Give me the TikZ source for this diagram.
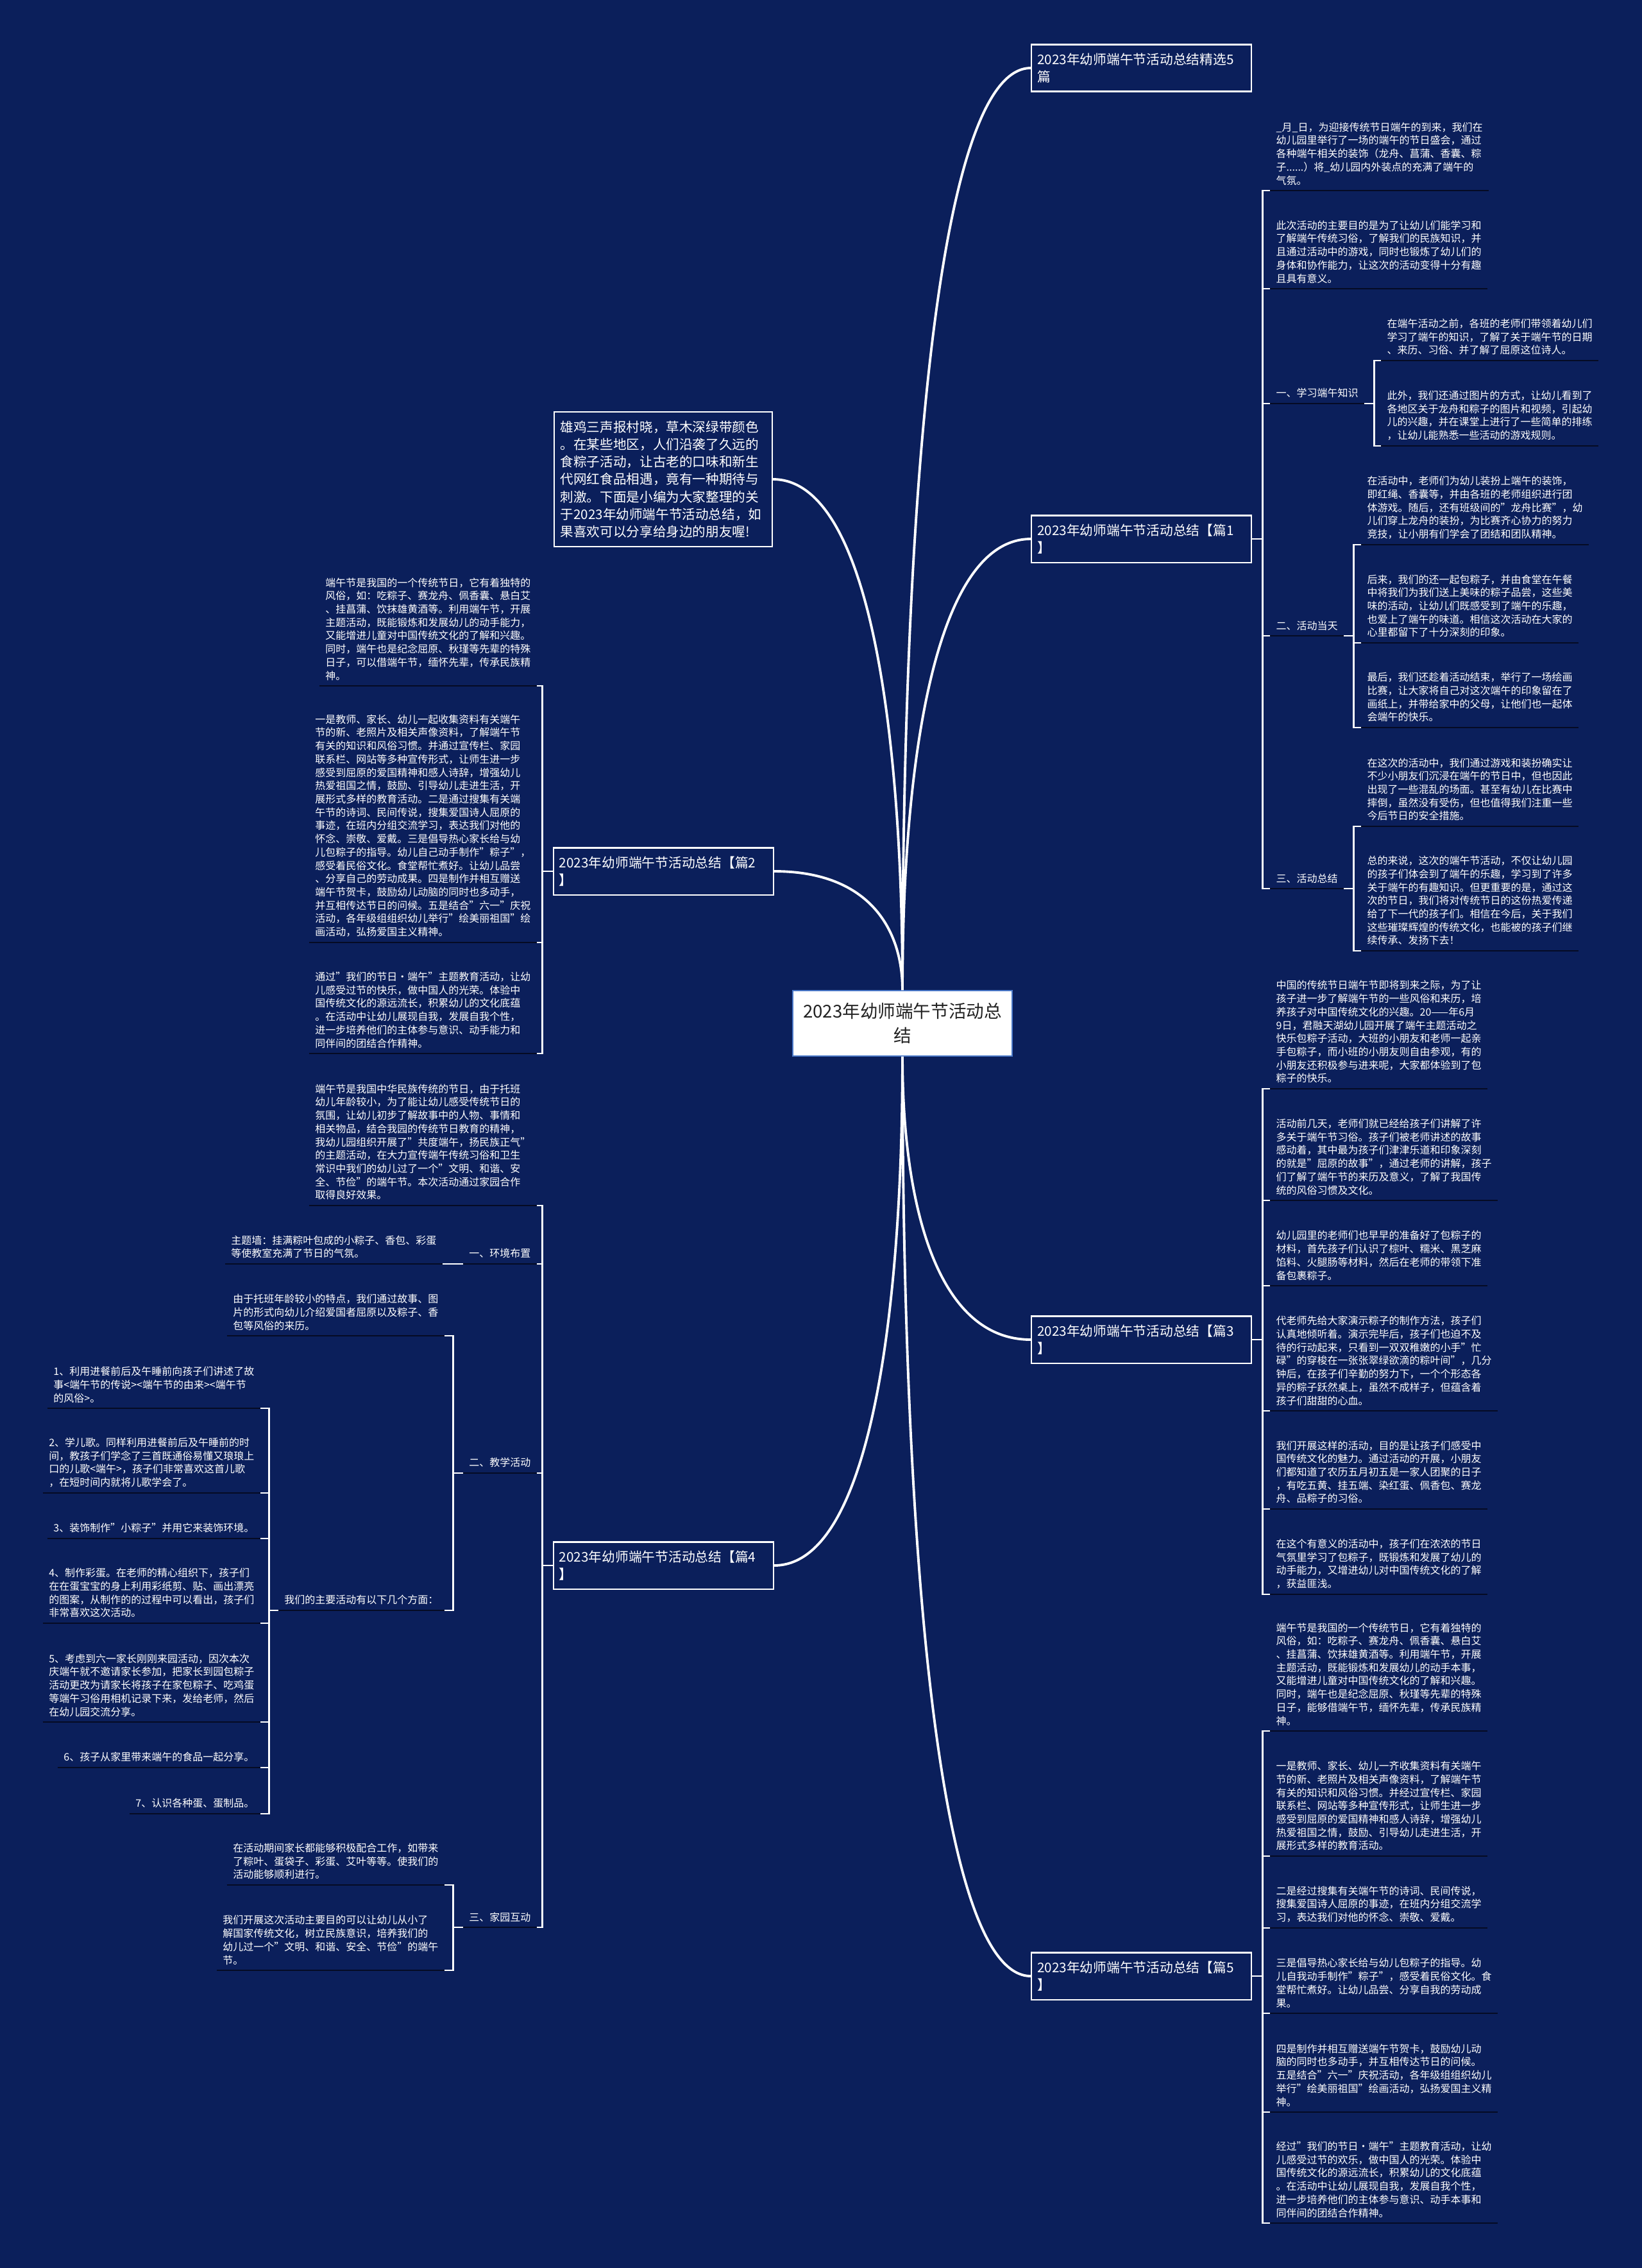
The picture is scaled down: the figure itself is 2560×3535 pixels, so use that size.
\documentclass[tikz,border=0pt]{standalone}
\usepackage{fontspec}
\setmainfont{Noto Sans CJK SC}
\usetikzlibrary{calc}
\definecolor{NavyBg}{HTML}{0B1F5B}
\definecolor{LineDark}{HTML}{050B24}
\definecolor{TextDark}{HTML}{222222}
\definecolor{RootEdge}{HTML}{4A78C8}

\begin{document}
\begin{tikzpicture}[x=0.01cm, y=-0.01cm,
    every node/.style={text=white},
    rootbox/.style={fill=white, draw=RootEdge, line width=0.5pt, text=TextDark, minimum width=3.42cm,
      minimum height=1.02cm, align=center, font=\fontsize{7.85pt}{10.8pt}\selectfont},
    branchbox/.style={draw=white, line width=0.6pt, text width=3.25cm, inner xsep=0.09cm,
      inner ysep=0.13cm, align=left, font=\fontsize{5.9pt}{7.9pt}\selectfont},
    leaf/.style={inner xsep=0.09cm, inner ysep=0.08cm, align=left,
      font=\fontsize{4.55pt}{5.89pt}\selectfont},
    rleaf/.style={leaf, anchor=south west},
    lleaf/.style={leaf, anchor=south east},
    curve/.style={draw=white, line width=1.1pt},
    wire/.style={draw=white, line width=0.7pt},
    uline/.style={draw=LineDark, line width=0.7pt}]
  \fill[NavyBg] (0,0) rectangle (2560,3535);
  \useasboundingbox (0,0) rectangle (2560,3535);

  % centre and main branches
  \node[rootbox] (root) at (1407,1595) {2023年幼师端午节活动总\\结};
  \node[branchbox, anchor=west] (b5p) at (1607,106) {2023年幼师端午节活动总结精选5\\篇};
  \node[branchbox, anchor=west] (b1) at (1607,840) {2023年幼师端午节活动总结【篇1\\】};
  \node[branchbox, anchor=west] (b3) at (1607,2088) {2023年幼师端午节活动总结【篇3\\】};
  \node[branchbox, anchor=west] (b5) at (1607,3080) {2023年幼师端午节活动总结【篇5\\】};
  \node[branchbox, anchor=east, text width=3.2cm, inner xsep=0.1cm, inner ysep=0.14cm,
        font=\fontsize{5.86pt}{7.75pt}\selectfont] (intro) at (1205,747)
    {雄鸡三声报村晓，草木深绿带颜色\\。在某些地区，人们沿袭了久远的\\食粽子活动，让古老的口味和新生\\代网红食品相遇，竟有一种期待与\\刺激。下面是小编为大家整理的关\\于2023年幼师端午节活动总结，如\\果喜欢可以分享给身边的朋友喔!};
  \node[branchbox, anchor=east] (b2) at (1207,1358) {2023年幼师端午节活动总结【篇2\\】};
  \node[branchbox, anchor=east] (b4) at (1207,2440) {2023年幼师端午节活动总结【篇4\\】};

  \foreach \br/\s/\e in {b5p/north/west, b1/north/west, b3/south/west, b5/south/west,
                         intro/north/east, b2/north/east, b4/south/east}
    \draw[curve] (root.\s) .. controls ($(root.\s)!0.5!(root.\s |- \br.\e)$)
      and ($(root.\s |- \br.\e)!0.25!(\br.\e)$) .. (\br.\e);

  % 篇1
  \node[rleaf] (p1) at (1980,297) {\_月\_日，为迎接传统节日端午的到来，我们在\\幼儿园里举行了一场的端午的节日盛会，通过\\各种端午相关的装饰（龙舟、菖蒲、香囊、粽\\子......）将\_幼儿园内外装点的充满了端午的\\气氛。};
  \node[rleaf] (p2) at (1980,450) {此次活动的主要目的是为了让幼儿们能学习和\\了解端午传统习俗，了解我们的民族知识，并\\且通过活动中的游戏，同时也锻炼了幼儿们的\\身体和协作能力，让这次的活动变得十分有趣\\且具有意义。};
  \node[rleaf] (l1) at (1980,629) {一、学习端午知识};
  \node[rleaf] (l2) at (1980,991) {二、活动当天};
  \node[rleaf] (l3) at (1980,1385) {三、活动总结};
  \node[rleaf] (l1a) at (2153,562) {在端午活动之前，各班的老师们带领着幼儿们\\学习了端午的知识，了解了关于端午节的日期\\、来历、习俗、并了解了屈原这位诗人。};
  \node[rleaf] (l1b) at (2153,695) {此外，我们还通过图片的方式，让幼儿看到了\\各地区关于龙舟和粽子的图片和视频，引起幼\\儿的兴趣，并在课堂上进行了一些简单的排练\\，让幼儿能熟悉一些活动的游戏规则。};
  \node[rleaf] (l2a) at (2122,849) {在活动中，老师们为幼儿装扮上端午的装饰，\\即红绳、香囊等，并由各班的老师组织进行团\\体游戏。随后，还有班级间的"龙舟比赛"，幼\\儿们穿上龙舟的装扮，为比赛齐心协力的努力\\竞技，让小朋有们学会了团结和团队精神。};
  \node[rleaf] (l2b) at (2122,1002) {后来，我们的还一起包粽子，并由食堂在午餐\\中将我们为我们送上美味的粽子品尝，这些美\\味的活动，让幼儿们既感受到了端午的乐趣，\\也爱上了端午的味道。相信这次活动在大家的\\心里都留下了十分深刻的印象。};
  \node[rleaf] (l2c) at (2122,1134) {最后，我们还趁着活动结束，举行了一场绘画\\比赛，让大家将自己对这次端午的印象留在了\\画纸上，并带给家中的父母，让他们也一起体\\会端午的快乐。};
  \node[rleaf] (l3a) at (2122,1288) {在这次的活动中，我们通过游戏和装扮确实让\\不少小朋友们沉浸在端午的节日中，但也因此\\出现了一些混乱的场面。甚至有幼儿在比赛中\\摔倒，虽然没有受伤，但也值得我们注重一些\\今后节日的安全措施。};
  \node[rleaf] (l3b) at (2122,1482) {总的来说，这次的端午节活动，不仅让幼儿园\\的孩子们体会到了端午的乐趣，学习到了许多\\关于端午的有趣知识。但更重要的是，通过这\\次的节日，我们将对传统节日的这份热爱传递\\给了下一代的孩子们。相信在今后，关于我们\\这些璀璨辉煌的传统文化，也能被的孩子们继\\续传承、发扬下去！};

  % 篇3
  \node[rleaf] (r1) at (1980,1697) {中国的传统节日端午节即将到来之际，为了让\\孩子进一步了解端午节的一些风俗和来历，培\\养孩子对中国传统文化的兴趣。20——年6月\\9日，君融天湖幼儿园开展了端午主题活动之\\快乐包粽子活动，大班的小朋友和老师一起亲\\手包粽子，而小班的小朋友则自由参观，有的\\小朋友还积极参与进来呢，大家都体验到了包\\粽子的快乐。};
  \node[rleaf] (r2) at (1980,1871) {活动前几天，老师们就已经给孩子们讲解了许\\多关于端午节习俗。孩子们被老师讲述的故事\\感动着，其中最为孩子们津津乐道和印象深刻\\的就是"屈原的故事"，通过老师的讲解，孩子\\们了解了端午节的来历及意义，了解了我国传\\统的风俗习惯及文化。};
  \node[rleaf] (r3) at (1980,2004) {幼儿园里的老师们也早早的准备好了包粽子的\\材料，首先孩子们认识了棕叶、糯米、黑芝麻\\馅料、火腿肠等材料，然后在老师的带领下准\\备包裹粽子。};
  \node[rleaf] (r4) at (1980,2199) {代老师先给大家演示粽子的制作方法，孩子们\\认真地倾听着。演示完毕后，孩子们也迫不及\\待的行动起来，只看到一双双稚嫩的小手"忙\\碌"的穿梭在一张张翠绿欲滴的粽叶间"，几分\\钟后，在孩子们辛勤的努力下，一个个形态各\\异的粽子跃然桌上，虽然不成样子，但蕴含着\\孩子们甜甜的心血。};
  \node[rleaf] (r5) at (1980,2352) {我们开展这样的活动，目的是让孩子们感受中\\国传统文化的魅力。通过活动的开展，小朋友\\们都知道了农历五月初五是一家人团聚的日子\\，有吃五黄、挂五端、染红蛋、佩香包、赛龙\\舟、品粽子的习俗。};
  \node[rleaf] (r6) at (1980,2485) {在这个有意义的活动中，孩子们在浓浓的节日\\气氛里学习了包粽子，既锻炼和发展了幼儿的\\动手能力，又增进幼儿对中国传统文化的了解\\，获益匪浅。};

  % 篇5
  \node[rleaf] (s1) at (1980,2698) {端午节是我国的一个传统节日，它有着独特的\\风俗，如：吃粽子、赛龙舟、佩香囊、悬白艾\\、挂菖蒲、饮抹雄黄酒等。利用端午节，开展\\主题活动，既能锻炼和发展幼儿的动手本事，\\又能增进儿童对中国传统文化的了解和兴趣。\\同时，端午也是纪念屈原、秋瑾等先辈的特殊\\日子，能够借端午节，缅怀先辈，传承民族精\\神。};
  \node[rleaf] (s2) at (1980,2893) {一是教师、家长、幼儿一齐收集资料有关端午\\节的新、老照片及相关声像资料，了解端午节\\有关的知识和风俗习惯。并经过宣传栏、家园\\联系栏、网站等多种宣传形式，让师生进一步\\感受到屈原的爱国精神和感人诗辞，增强幼儿\\热爱祖国之情，鼓励、引导幼儿走进生活，开\\展形式多样的教育活动。};
  \node[rleaf] (s3) at (1980,3005) {二是经过搜集有关端午节的诗词、民间传说，\\搜集爱国诗人屈原的事迹，在班内分组交流学\\习，表达我们对他的怀念、崇敬、爱戴。};
  \node[rleaf] (s4) at (1980,3138) {三是倡导热心家长给与幼儿包粽子的指导。幼\\儿自我动手制作"粽子"，感受着民俗文化。食\\堂帮忙煮好。让幼儿品尝、分享自我的劳动成\\果。};
  \node[rleaf] (s5) at (1980,3292) {四是制作并相互赠送端午节贺卡，鼓励幼儿动\\脑的同时也多动手，并互相传达节日的问候。\\五是结合"六一"庆祝活动，各年级组组织幼儿\\举行"绘美丽祖国"绘画活动，弘扬爱国主义精\\神。};
  \node[rleaf] (s6) at (1980,3465) {经过"我们的节日·端午"主题教育活动，让幼\\儿感受过节的欢乐，做中国人的光荣。体验中\\国传统文化的源远流长，积累幼儿的文化底蕴\\。在活动中让幼儿展现自我，发展自我个性，\\进一步培养他们的主体参与意识、动手本事和\\同伴间的团结合作精神。};

  % 篇2
  \node[lleaf] (q1) at (837,1069) {端午节是我国的一个传统节日，它有着独特的\\风俗，如：吃粽子、赛龙舟、佩香囊、悬白艾\\、挂菖蒲、饮抹雄黄酒等。利用端午节，开展\\主题活动，既能锻炼和发展幼儿的动手能力，\\又能增进儿童对中国传统文化的了解和兴趣。\\同时，端午也是纪念屈原、秋瑾等先辈的特殊\\日子，可以借端午节，缅怀先辈，传承民族精\\神。};
  \node[lleaf] (q2) at (837,1469) {一是教师、家长、幼儿一起收集资料有关端午\\节的新、老照片及相关声像资料，了解端午节\\有关的知识和风俗习惯。并通过宣传栏、家园\\联系栏、网站等多种宣传形式，让师生进一步\\感受到屈原的爱国精神和感人诗辞，增强幼儿\\热爱祖国之情，鼓励、引导幼儿走进生活，开\\展形式多样的教育活动。二是通过搜集有关端\\午节的诗词、民间传说，搜集爱国诗人屈原的\\事迹，在班内分组交流学习，表达我们对他的\\怀念、崇敬、爱戴。三是倡导热心家长给与幼\\儿包粽子的指导。幼儿自己动手制作"粽子"，\\感受着民俗文化。食堂帮忙煮好。让幼儿品尝\\、分享自己的劳动成果。四是制作并相互赠送\\端午节贺卡，鼓励幼儿动脑的同时也多动手，\\并互相传达节日的问候。五是结合"六一"庆祝\\活动，各年级组组织幼儿举行"绘美丽祖国"绘\\画活动，弘扬爱国主义精神。};
  \node[lleaf] (q3) at (837,1642) {通过"我们的节日·端午"主题教育活动，让幼\\儿感受过节的快乐，做中国人的光荣。体验中\\国传统文化的源远流长，积累幼儿的文化底蕴\\。在活动中让幼儿展现自我，发展自我个性，\\进一步培养他们的主体参与意识、动手能力和\\同伴间的团结合作精神。};

  % 篇4
  \node[lleaf] (t0) at (837,1879) {端午节是我国中华民族传统的节日，由于托班\\幼儿年龄较小，为了能让幼儿感受传统节日的\\氛围，让幼儿初步了解故事中的人物、事情和\\相关物品，结合我园的传统节日教育的精神，\\我幼儿园组织开展了"共度端午，扬民族正气"\\的主题活动，在大力宣传端午传统习俗和卫生\\常识中我们的幼儿过了一个"文明、和谐、安\\全、节俭"的端午节。本次活动通过家园合作\\取得良好效果。};
  \node[lleaf] (e1) at (837,1970) {一、环境布置};
  \node[lleaf] (e2) at (837,2296) {二、教学活动};
  \node[lleaf] (e3) at (837,3004) {三、家园互动};
  \node[lleaf] (e1a) at (690,1970) {主题墙：挂满粽叶包成的小粽子、香包、彩蛋\\等使教室充满了节日的气氛。};
  \node[lleaf] (e2a) at (693,2082) {由于托班年龄较小的特点，我们通过故事、图\\片的形式向幼儿介绍爱国者屈原以及粽子、香\\包等风俗的来历。};
  \node[lleaf] (e2b) at (693,2510) {我们的主要活动有以下几个方面：};
  \node[lleaf] (e3a) at (693,2938) {在活动期间家长都能够积极配合工作，如带来\\了粽叶、蛋袋子、彩蛋、艾叶等等。使我们的\\活动能够顺利进行。};
  \node[lleaf] (e3b) at (693,3071) {我们开展这次活动主要目的可以让幼儿从小了\\解国家传统文化，树立民族意识，培养我们的\\幼儿过一个"文明、和谐、安全、节俭"的端午\\节。};
  \node[lleaf] (k1) at (406,2195) {1、利用进餐前后及午睡前向孩子们讲述了故\\事<端午节的传说><端午节的由来><端午节\\的风俗>。};
  \node[lleaf] (k2) at (406,2327) {2、学儿歌。同样利用进餐前后及午睡前的时\\间，教孩子们学念了三首既通俗易懂又琅琅上\\口的儿歌<端午>，孩子们非常喜欢这首儿歌\\，在短时间内就将儿歌学会了。};
  \node[lleaf] (k3) at (406,2398) {3、装饰制作"小粽子"并用它来装饰环境。};
  \node[lleaf] (k4) at (406,2530) {4、制作彩蛋。在老师的精心组织下，孩子们\\在在蛋宝宝的身上利用彩纸剪、贴、画出漂亮\\的图案，从制作的的过程中可以看出，孩子们\\非常喜欢这次活动。};
  \node[lleaf] (k5) at (406,2684) {5、考虑到六一家长刚刚来园活动，因次本次\\庆端午就不邀请家长参加，把家长到园包粽子\\活动更改为请家长将孩子在家包粽子、吃鸡蛋\\等端午习俗用相机记录下来，发给老师，然后\\在幼儿园交流分享。};
  \node[lleaf] (k6) at (406,2755) {6、孩子从家里带来端午的食品一起分享。};
  \node[lleaf] (k7) at (406,2827) {7、认识各种蛋、蛋制品。};

  % underlines
  \foreach \n in {p1,p2,l1,l2,l3,l1a,l1b,l2a,l2b,l2c,l3a,l3b,r1,r2,r3,r4,r5,r6,
                  s1,s2,s3,s4,s5,s6,q1,q2,q3,t0,e1,e2,e3,e1a,e2a,e2b,e3a,e3b,
                  k1,k2,k3,k4,k5,k6,k7}
    \draw[uline] (\n.south west) -- (\n.south east);

  % brackets
  \foreach \n in {p1,p2,l1,l2,l3} \draw[wire] (b1.east) -- ++(16,0) |- (\n.south west);
  \foreach \n in {l1a,l1b} \draw[wire] (l1.south east) -- ++(15,0) |- (\n.south west);
  \foreach \n in {l2a,l2b,l2c} \draw[wire] (l2.south east) -- ++(15,0) |- (\n.south west);
  \foreach \n in {l3a,l3b} \draw[wire] (l3.south east) -- ++(15,0) |- (\n.south west);
  \foreach \n in {r1,r2,r3,r4,r5,r6} \draw[wire] (b3.east) -- ++(16,0) |- (\n.south west);
  \foreach \n in {s1,s2,s3,s4,s5,s6} \draw[wire] (b5.east) -- ++(16,0) |- (\n.south west);
  \foreach \n in {q1,q2,q3} \draw[wire] (b2.west) -- ++(-16,0) |- (\n.south east);
  \foreach \n in {t0,e1,e2,e3} \draw[wire] (b4.west) -- ++(-16,0) |- (\n.south east);
  \draw[wire] (e1.south west) -- (e1a.south east);
  \foreach \n in {e2a,e2b} \draw[wire] (e2.south west) -- ++(-15,0) |- (\n.south east);
  \foreach \n in {e3a,e3b} \draw[wire] (e3.south west) -- ++(-15,0) |- (\n.south east);
  \foreach \n in {k1,k2,k3,k4,k5,k6,k7} \draw[wire] (e2b.south west) -- ++(-14,0) |- (\n.south east);
\end{tikzpicture}
\end{document}
